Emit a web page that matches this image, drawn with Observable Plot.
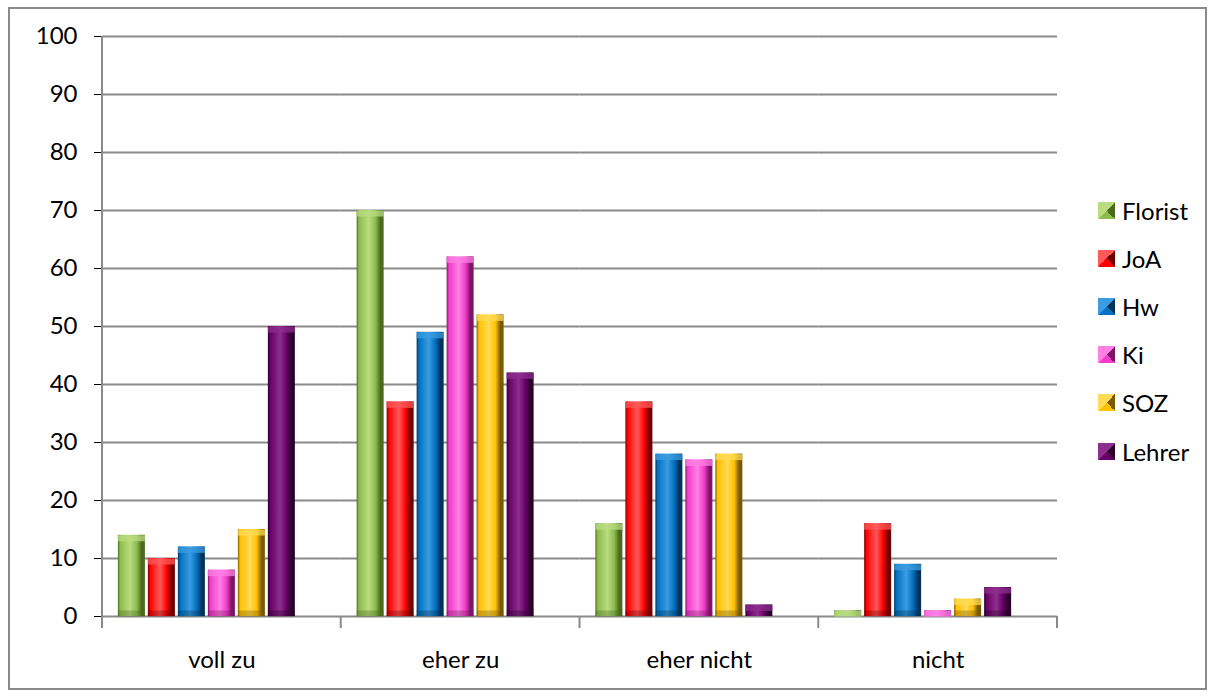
<!DOCTYPE html>
<html><head><meta charset="utf-8">
<script src="https://cdn.jsdelivr.net/npm/d3@7"></script>
<script src="https://cdn.jsdelivr.net/npm/@observablehq/plot@0.6"></script>
<style>
body{margin:0;background:#fff;}
#wrap{position:relative;width:1214px;height:697px;font-family:Lato,"Open Sans",sans-serif;color:#000;}
#border{position:absolute;left:8px;top:7px;width:1199px;height:683px;border:2px solid #8a8a8a;box-sizing:border-box;}
#chart{position:absolute;left:0;top:0;}
#legend{position:absolute;left:1098px;top:186px;}
.item{display:flex;align-items:center;height:48.2px;font-size:24px;}
.sw{width:17px;height:17px;margin-right:7px;}
</style></head>
<body>
<svg width="0" height="0" style="position:absolute"><defs id="defs"></defs></svg>
<div id="wrap"><div id="border"></div><div id="chart"></div><div id="legend"></div></div>
<script>
const categories = ["voll zu", "eher zu", "eher nicht", "nicht"];
const series = ["Florist", "JoA", "Hw", "Ki", "SOZ", "Lehrer"];
const vollZu    = [14, 10, 12, 8, 15, 50];
const eherZu    = [70, 37, 49, 62, 52, 42];
const eherNicht = [16, 37, 28, 27, 28, 2];
const nicht     = [1, 16, 9, 1, 3, 5];
const yTicks = [0, 10, 20, 30, 40, 50, 60, 70, 80, 90, 100];
const baseColors  = ["#8DBB4C", "#FF0000", "#0070C0", "#F03CC8", "#FFC000", "#660066"];
const lightColors = ["#B9DC82", "#FF5A5A", "#3C9CE2", "#FF80E4", "#FFDB55", "#8E2E8E"];
const darkColors  = ["#4A6A1E", "#700000", "#00335A", "#7E1466", "#7A5A00", "#2A002A"];

const valuesByCat = [vollZu, eherZu, eherNicht, nicht];
const rows = [];
categories.forEach((c, ci) => series.forEach((s, si) => rows.push({category: c, series: s, value: valuesByCat[ci][si], si})));

// gradients
const defs = d3.select("#defs");
series.forEach((s, i) => {
  const g = defs.append("linearGradient").attr("id", "g" + i).attr("x1", "0").attr("x2", "1").attr("y1", "0").attr("y2", "0");
  [[0, darkColors[i]], [0.08, baseColors[i]], [0.45, lightColors[i]], [0.7, baseColors[i]], [0.88, darkColors[i]], [1, darkColors[i]]]
    .forEach(([o, c]) => g.append("stop").attr("offset", o).attr("stop-color", c));
});
rows.forEach(r => { r.fill = "url(#g" + r.si + ")"; r.light = lightColors[r.si]; r.dark = darkColors[r.si]; });

const plot = Plot.plot({
  width: 1214, height: 697,
  marginTop: 36, marginBottom: 81, marginLeft: 102, marginRight: 157,
  style: {fontSize: "24px", fontFamily: "Lato, 'Open Sans', sans-serif", color: "#000", background: "transparent", overflow: "visible"},
  fx: {domain: categories, padding: 0, label: null, axis: "bottom", tickSize: 0, tickPadding: 34, round: false},
  x: {domain: [...series, "_"], paddingInner: 0.1, paddingOuter: 0.53, axis: null, round: false},
  y: {domain: [0, 100], ticks: yTicks, label: null, tickSize: 8, tickPadding: 17, tickFormat: d => d},
  color: {type: "identity"},
  marks: [
    Plot.ruleY(yTicks, {stroke: "#8a8a8a", strokeWidth: 2}),
    Plot.barY(rows, {fx: "category", x: "series", y: "value", fill: "fill"}),
    Plot.tickY(rows, {fx: "category", x: "series", y: "value", stroke: "light", strokeWidth: 6, dy: 3, strokeOpacity: 0.75}),
    Plot.tickY(rows.filter(r => r.value >= 3), {fx: "category", x: "series", y: 0, stroke: "dark", strokeWidth: 6, dy: -3, strokeOpacity: 0.35})
  ]
});
document.getElementById("chart").appendChild(plot);

// axis line and category boundary ticks
const fx = plot.scale("fx");
const ys = plot.scale("y");
const svg = d3.select(plot);
const x0 = fx.range[0], x1 = fx.range[1];
const step = (x1 - x0) / fx.domain.length;
const yb = ys.range[0], yt = ys.range[1];
svg.append("line").attr("x1", x0).attr("x2", x0).attr("y1", yt).attr("y2", yb).attr("stroke", "#8a8a8a").attr("stroke-width", 2);
d3.range(fx.domain.length + 1).forEach(i => {
  const xx = x0 + i * step;
  svg.append("line").attr("x1", xx).attr("x2", xx).attr("y1", yb).attr("y2", yb + 12).attr("stroke", "#8a8a8a").attr("stroke-width", 2);
});

// legend
const legend = d3.select("#legend");
series.forEach((s, i) => {
  const it = legend.append("div").attr("class", "item");
  it.append("div").attr("class", "sw").style("background",
    `conic-gradient(from -45deg, ${lightColors[i]} 0 90deg, ${darkColors[i]} 90deg 180deg, ${baseColors[i]} 180deg 270deg, ${lightColors[i]} 270deg 360deg)`);
  it.append("span").text(s);
});
</script>
</body></html>
